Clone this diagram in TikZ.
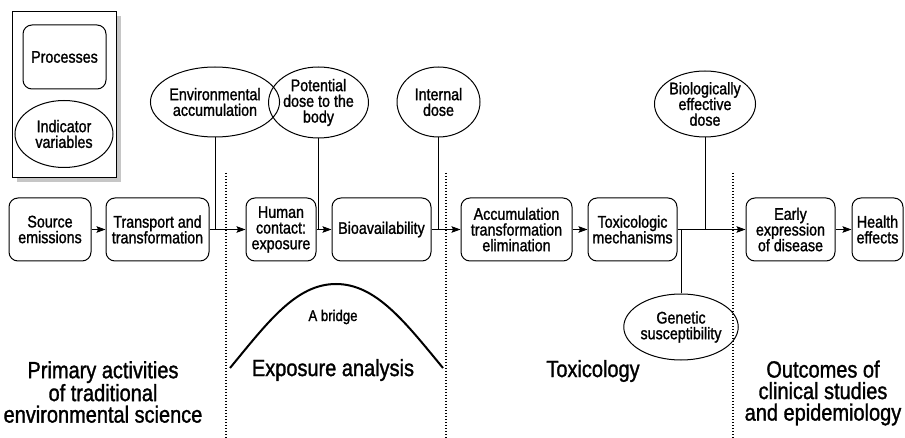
\documentclass[tikz,border=0pt]{standalone}
\usepackage{fontspec}
\setmainfont{Liberation Sans}[FakeStretch=0.85,FakeBold=1.3]
\usetikzlibrary{shapes.geometric,arrows.meta}
\tikzset{
  proc/.style={draw, line width=1pt, rounded corners=9pt, minimum height=63pt, align=center, inner sep=1pt, font=\fontsize{16.8}{15.7}\selectfont},
  ind/.style={draw, line width=1pt, ellipse, align=center, inner sep=0pt, font=\fontsize{16.8}{15.7}\selectfont},
  arr/.style={line width=1pt, -{Stealth[length=9pt,width=6.5pt,inset=1.5pt]}},
  conn/.style={line width=1pt},
  divider/.style={line width=1.3pt, dash pattern=on 1.4pt off 1.6pt},
  biglabel/.style={align=center, font=\fontsize{23.5}{21.5}\selectfont},
}
\begin{document}
\begin{tikzpicture}[x=1pt, y=-1pt]
\useasboundingbox (0,0) rectangle (905,438);
% legend
\fill[gray!45] (16.5,16.5) rectangle (120.5,182.5);
\draw[line width=1pt, fill=white] (12,12) rectangle (116,178);
\node[proc, minimum width=83pt, minimum height=64pt] (lproc) at (64.5,57) {Processes};
\node[ind, minimum width=98pt, minimum height=67pt] (lind) at (64,134) {Indicator\\variables};
% process row
\node[proc, minimum width=82pt] (src) at (50,229.5) {Source\\emissions};
\node[proc, minimum width=103pt] (trans) at (157.5,229.5) {Transport and\\transformation};
\node[proc, minimum width=70pt] (human) at (281,229.5) {Human\\contact:\\exposure};
\node[proc, minimum width=99pt] (bio) at (381.5,229.5) {Bioavailability};
\node[proc, minimum width=111pt] (accum) at (516.5,229.5) {Accumulation\\transformation\\elimination};
\node[proc, minimum width=89pt] (tox) at (632.5,229.5) {Toxicologic\\mechanisms};
\node[proc, minimum width=89pt] (early) at (790.5,229.5) {Early\\expression\\of disease};
\node[proc, minimum width=51pt] (health) at (877.5,229.5) {Health\\effects};
% indicator variables
\node[ind, minimum width=116pt, minimum height=70pt] (env) at (215,102) {Environmental\\accumulation};
\node[ind, minimum width=91pt, minimum height=71pt] (pot) at (318.5,102.5) {Potential\\dose to the\\body};
\node[ind, minimum width=83pt, minimum height=70pt] (intd) at (438.5,102) {Internal\\dose};
\node[ind, minimum width=91pt, minimum height=66pt] (beff) at (705,104) {Biologically\\effective\\dose};
\node[ind, minimum width=94pt, minimum height=66pt] (gen) at (681,327) {Genetic\\susceptibility};
% arrows
\draw[arr] (src) -- (trans);
\draw[arr] (trans) -- (human);
\draw[arr] (human) -- (bio);
\draw[arr] (bio) -- (accum);
\draw[arr] (accum) -- (tox);
\draw[arr] (tox) -- (early);
\draw[arr] (early) -- (health);
% indicator connectors
\draw[conn] (env.south) -- (env.south |- trans.east);
\draw[conn] (pot.south) -- (pot.south |- human.east);
\draw[conn] (intd.south) -- (intd.south |- bio.east);
\draw[conn] (beff.south) -- (beff.south |- tox.east);
\draw[conn] (gen.north) -- (gen.north |- tox.east);
% dividers
\coordinate (d1t) at (226,173); \coordinate (d1b) at (226,438);
\coordinate (d2t) at (446,173); \coordinate (d2b) at (446,438);
\coordinate (d3t) at (733,173); \coordinate (d3b) at (733,438);
\draw[divider] (d1t) -- (d1b);
\draw[divider] (d2t) -- (d2b);
\draw[divider] (d3t) -- (d3b);
% bridge
\coordinate (bl) at (230,368); \coordinate (bt) at (336,284); \coordinate (br) at (443,368);
\draw[line width=2pt] (bl) .. controls (268,322) and (296,284) .. (bt) .. controls (376,284) and (405,322) .. (br);
\node[font=\fontsize{15.5}{15}\selectfont] (bridge) at (333,317) {A bridge};
% section labels
\node[biglabel] (lab1) at (103,392) {Primary activities\\of traditional\\environmental science};
\node[biglabel] (lab2) at (333,370) {Exposure analysis};
\node[biglabel] (lab3) at (593,371) {Toxicology};
\node[biglabel] (lab4) at (823,393) {Outcomes of\\clinical studies\\and epidemiology};
\end{tikzpicture}
\end{document}
